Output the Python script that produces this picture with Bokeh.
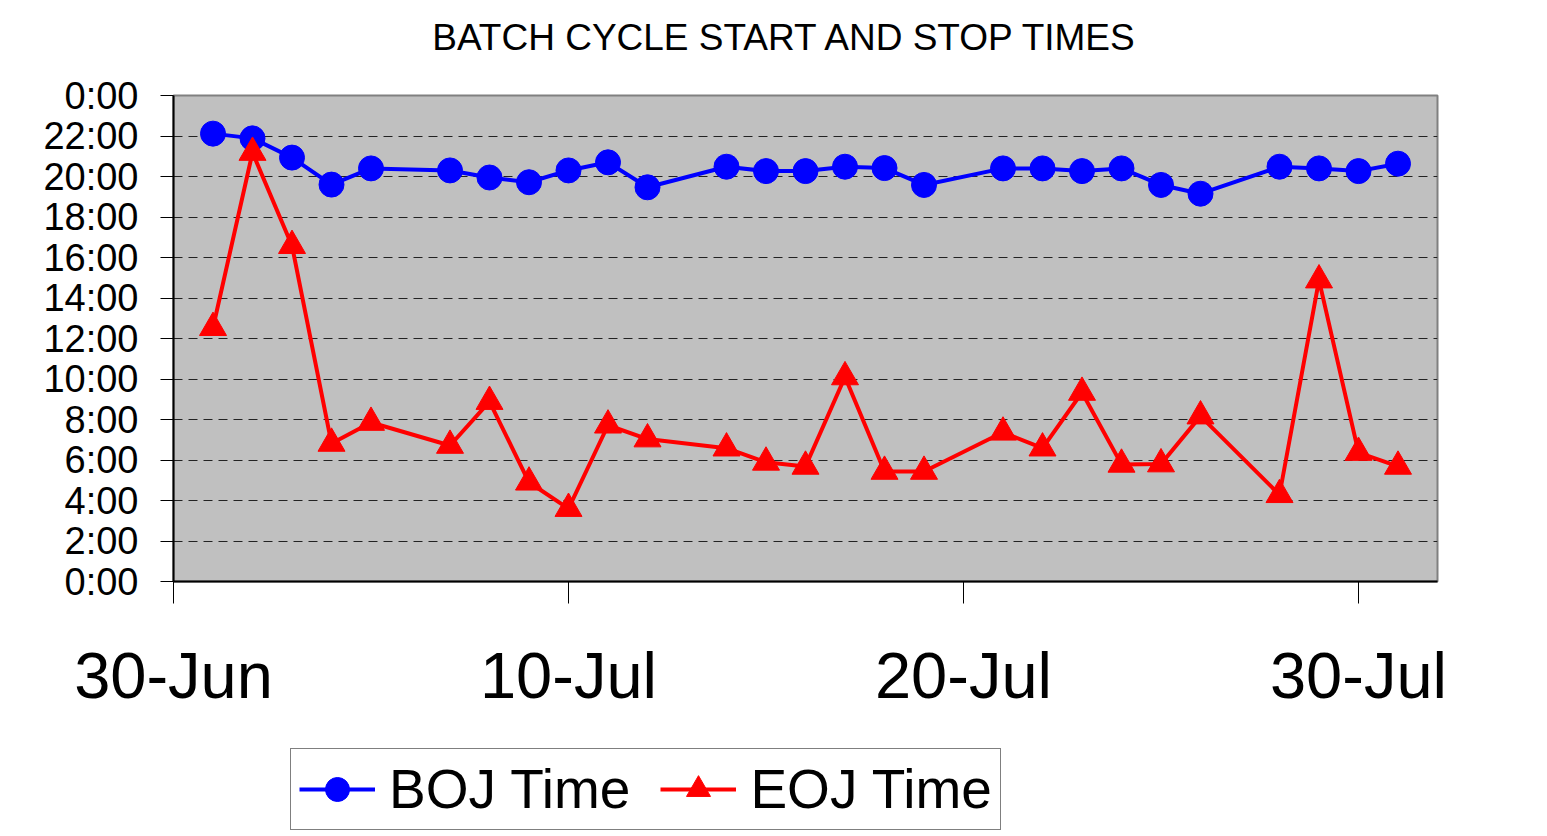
from datetime import datetime, timezone
from bokeh.plotting import figure
from bokeh.layouts import column
from bokeh.core.properties import value
from bokeh.models import (FixedTicker, Legend, LegendItem, DatetimeTickFormatter,
                          Range1d, ColumnDataSource)
from bokeh.embed import file_html
from bokeh.resources import INLINE

# ---------------- data ----------------
dates = ["2008-07-01", "2008-07-02", "2008-07-03", "2008-07-04", "2008-07-05",
         "2008-07-07", "2008-07-08", "2008-07-09", "2008-07-10", "2008-07-11",
         "2008-07-12", "2008-07-14", "2008-07-15", "2008-07-16", "2008-07-17",
         "2008-07-18", "2008-07-19", "2008-07-21", "2008-07-22", "2008-07-23",
         "2008-07-24", "2008-07-25", "2008-07-26", "2008-07-28", "2008-07-29",
         "2008-07-30", "2008-07-31"]
boj_times = ["22:07", "21:53", "20:56", "19:36", "20:24",
             "20:18", "19:57", "19:43", "20:18", "20:42",
             "19:28", "20:29", "20:16", "20:16", "20:29",
             "20:25", "19:35", "20:24", "20:24", "20:16",
             "20:24", "19:35", "19:09", "20:29", "20:24",
             "20:16", "20:38"]
eoj_times = ["12:32", "21:11", "16:35", "6:49", "7:51",
             "6:43", "8:53", "4:54", "3:36", "7:43",
             "7:02", "6:35", "5:53", "5:41", "10:06",
             "5:26", "5:26", "7:22", "6:35", "9:20",
             "5:47", "5:48", "8:10", "4:17", "14:53",
             "6:22", "5:41"]
y_ticks = [0, 2, 4, 6, 8, 10, 12, 14, 16, 18, 20, 22, 24]
y_tick_labels = ["0:00", "2:00", "4:00", "6:00", "8:00", "10:00", "12:00",
                 "14:00", "16:00", "18:00", "20:00", "22:00", "0:00"]
x_tick_dates = ["2008-06-30", "2008-07-10", "2008-07-20", "2008-07-30"]
x_start, x_end = "2008-06-30", "2008-08-01"
title_text = "BATCH CYCLE START AND STOP TIMES"
series_names = ["BOJ Time", "EOJ Time"]


def to_dt(s):
    return datetime.strptime(s, "%Y-%m-%d").replace(tzinfo=timezone.utc)


def to_hours(t):
    h, m = t.split(":")
    return int(h) + int(m) / 60.0


def to_ms(s):
    return to_dt(s).timestamp() * 1000.0


src = ColumnDataSource(dict(
    x=[to_dt(d) for d in dates],
    boj=[to_hours(t) for t in boj_times],
    eoj=[to_hours(t) for t in eoj_times],
))

FONT = "Liberation Sans"
BLUE, RED = "#0000FF", "#FF0000"
W = 1547


def strip(height):
    f = figure(width=W, height=height, output_backend="svg", toolbar_location=None,
               x_range=Range1d(0, 1), y_range=Range1d(0, 1),
               x_axis_location=None, y_axis_location=None, min_border=0)
    f.outline_line_color = None
    f.background_fill_color = "white"
    f.border_fill_color = "white"
    f.grid.visible = False
    return f


# ---------------- title strip ----------------
p0 = strip(74)
p0.text(x=[0.5], y=[0.5], text=[title_text], text_align="center",
        text_baseline="middle", x_offset=-20,
        text_font=value(FONT), text_font_size="37px", text_color="black")

# ---------------- main chart ----------------
p = figure(width=W, height=671, x_axis_type="datetime",
           x_range=Range1d(to_dt(x_start), to_dt(x_end)),
           y_range=Range1d(0, 24),
           output_backend="svg", toolbar_location=None,
           min_border_left=173, min_border_right=110,
           min_border_top=21, min_border_bottom=164)

p.background_fill_color = "#C0C0C0"
p.border_fill_color = "white"
p.outline_line_color = "#808080"
p.outline_line_width = 2

# grid
p.xgrid.grid_line_color = None
p.ygrid.grid_line_color = "#222222"
p.ygrid.grid_line_dash = "9 6"
p.ygrid.grid_line_width = 1

# y axis
p.yaxis.ticker = FixedTicker(ticks=y_ticks)
p.yaxis.major_label_overrides = {t: l for t, l in zip(y_ticks, y_tick_labels)}
p.yaxis.major_label_text_font = FONT
p.yaxis.major_label_text_font_size = "38px"
p.yaxis.major_label_text_color = "black"
p.yaxis.major_tick_out = 13
p.yaxis.major_tick_in = 0
p.yaxis.minor_tick_out = 0
p.yaxis.minor_tick_in = 0
p.yaxis.major_label_standoff = 22
p.yaxis.axis_line_color = "black"
p.yaxis.axis_line_width = 2
p.yaxis.major_tick_line_color = "black"

# x axis
p.xaxis.ticker = FixedTicker(ticks=[to_ms(d) for d in x_tick_dates])
p.xaxis.formatter = DatetimeTickFormatter(days="%d-%b", months="%d-%b")
p.xaxis.major_label_text_font = FONT
p.xaxis.major_label_text_font_size = "65px"
p.xaxis.major_label_text_color = "black"
p.xaxis.major_tick_out = 22
p.xaxis.major_tick_in = 0
p.xaxis.minor_tick_out = 0
p.xaxis.minor_tick_in = 0
p.xaxis.major_label_standoff = 35
p.xaxis.axis_line_color = "black"
p.xaxis.axis_line_width = 2
p.xaxis.major_tick_line_color = "black"

# series
p.line("x", "boj", source=src, line_color=BLUE, line_width=4)
p.scatter("x", "boj", source=src, marker="circle", size=25,
          fill_color=BLUE, line_color=BLUE)
p.line("x", "eoj", source=src, line_color=RED, line_width=4)
p.scatter("x", "eoj", source=src, marker="triangle", size=27,
          fill_color=RED, line_color=RED)

# ---------------- legend strip ----------------
p2 = strip(91)
# same series, drawn out of this strip's view: only their legend swatches show
g1 = p2.line("x", "boj", source=src, line_color=BLUE, line_width=4)
m1 = p2.scatter("x", "boj", source=src, marker="circle",
                fill_color=BLUE, line_color=BLUE)
g2 = p2.line("x", "eoj", source=src, line_color=RED, line_width=4)
m2 = p2.scatter("x", "eoj", source=src, marker="triangle",
                fill_color=RED, line_color=RED)

legend = Legend(items=[LegendItem(label=series_names[0], renderers=[g1, m1]),
                       LegendItem(label=series_names[1], renderers=[g2, m2])],
                orientation="horizontal", location=(117, 6))
legend.label_text_font = FONT
legend.label_text_font_size = "55px"
legend.label_text_color = "black"
legend.label_standoff = 14
legend.spacing = 30
legend.padding = 8
legend.margin = 0
legend.glyph_width = 76
legend.glyph_height = 60
legend.border_line_color = "black"
legend.border_line_width = 1
legend.background_fill_color = "white"
legend.background_fill_alpha = 1.0
p2.add_layout(legend, "center")

layout = column(p0, p, p2, spacing=0)
open("out.html", "w").write(file_html(layout, INLINE))
